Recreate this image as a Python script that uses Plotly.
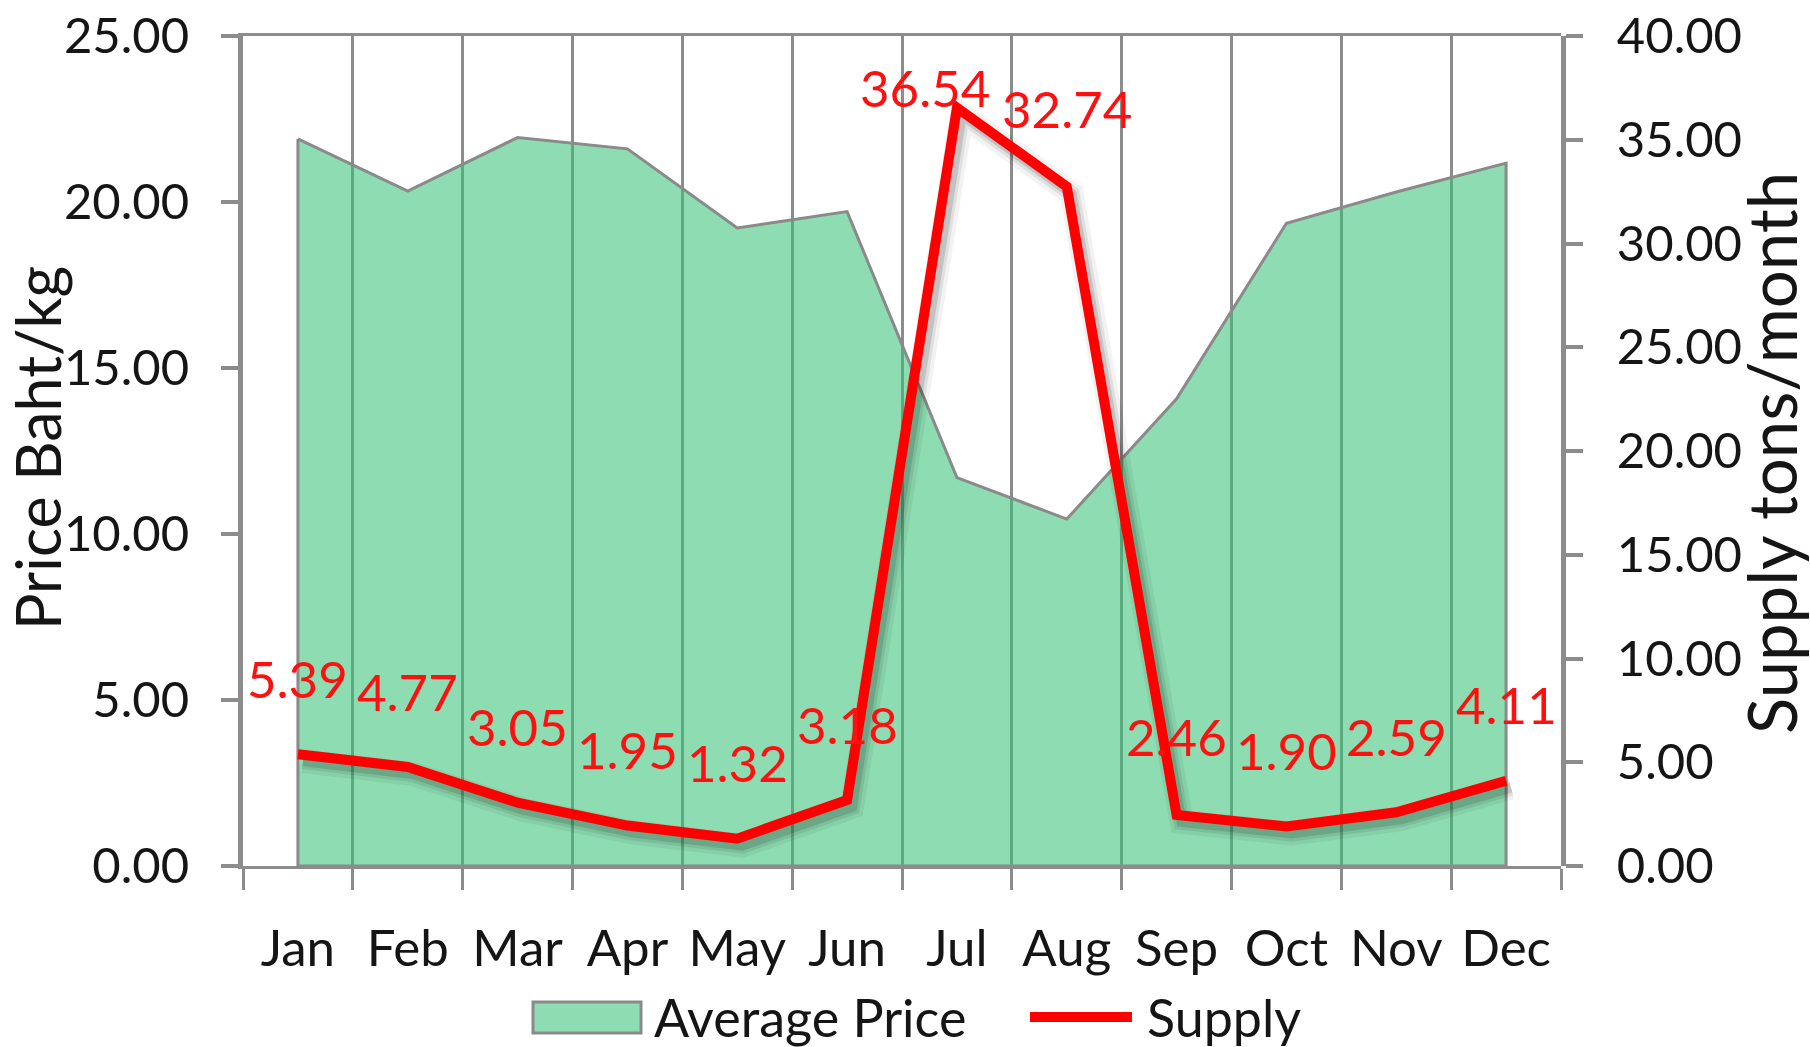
import plotly.graph_objects as go

months = ["Jan", "Feb", "Mar", "Apr", "May", "Jun", "Jul", "Aug", "Sep", "Oct", "Nov", "Dec"]
avg_price = [21.9, 20.33, 21.94, 21.6, 19.22, 19.71, 11.7, 10.45, 14.07, 19.36, 20.3, 21.17]
supply = [5.39, 4.77, 3.05, 1.95, 1.32, 3.18, 36.54, 32.74, 2.46, 1.90, 2.59, 4.11]
supply_labels = ["5.39", "4.77", "3.05", "1.95", "1.32", "3.18", "36.54", "32.74", "2.46", "1.90", "2.59", "4.11"]
price_ticks = [0, 5, 10, 15, 20, 25]
supply_ticks = [0, 5, 10, 15, 20, 25, 30, 35, 40]
series_names = ["Average Price", "Supply"]

# ---- layout geometry (pixels) ----
FW, FH = 1810, 1047
X0, X1, Y0, Y1 = 243, 1561, 36, 866   # main plot area (left, right, top, bottom)
SDX, SDY = 5, 7                        # shadow offset


def fx(px):
    return px / FW


def fy(py):
    return (FH - py) / FH


FONT = "Lato"
GREY = "#8c8c8c"
TXT = "#151515"
GREEN_FILL = "rgba(57,194,120,0.57)"
RED = "#ff0000"

fig = go.Figure()

# Average price area (closed polygon built from the data)
poly_x = months + [months[-1], months[0], months[0]]
poly_y = avg_price + [0, 0, avg_price[0]]
fig.add_trace(go.Scatter(
    x=poly_x, y=poly_y, xaxis="x", yaxis="y",
    mode="lines", fill="toself", fillcolor=GREEN_FILL,
    line=dict(color="#8a8a8a", width=3),
    name=series_names[0], hoverinfo="skip", showlegend=False,
))

# soft shadow of the supply line
for w, a in [(24, 0.05), (16, 0.08), (10, 0.13)]:
    fig.add_trace(go.Scatter(
        x=months, y=supply, xaxis="x2", yaxis="y3",
        mode="lines", line=dict(color=f"rgba(0,0,0,{a})", width=w),
        showlegend=False, hoverinfo="skip",
    ))

# supply line
fig.add_trace(go.Scatter(
    x=months, y=supply, xaxis="x3", yaxis="y4",
    mode="lines", line=dict(color=RED, width=10),
    name=series_names[1], hoverinfo="skip", showlegend=False,
))

# data labels
label_dx = [0, 0, 0, 0, 0, 0, -32, 0, 0, 0, 0, 0]
label_dy = [76, 76, 76, 76, 76, 76, 20, 78, 78, 76, 76, 76]
for m, v, t, dx, dy in zip(months, supply, supply_labels, label_dx, label_dy):
    fig.add_annotation(
        x=m, y=v, xref="x3", yref="y4", text=t, showarrow=False,
        xshift=dx, yshift=dy,
        font=dict(family=FONT, size=51, color="#ff1010"),
    )

# axis titles
fig.add_annotation(
    x=fx(38), y=fy(448), xref="paper", yref="paper", text="Price Baht/kg",
    textangle=-90, showarrow=False, xanchor="center", yanchor="middle",
    font=dict(family=FONT, size=61, color=TXT),
)
fig.add_annotation(
    x=fx(1771), y=fy(453), xref="paper", yref="paper", text="Supply tons/month",
    textangle=-90, showarrow=False, xanchor="center", yanchor="middle",
    font=dict(family=FONT, size=67, color=TXT),
)

# legend (drawn manually to match the large icons)
LEG_Y = 1017
fig.add_shape(type="rect", xref="paper", yref="paper",
              x0=fx(533), x1=fx(641), y0=fy(1033), y1=fy(1002),
              fillcolor="#8edcb2", line=dict(color="#8a8a8a", width=3))
fig.add_annotation(x=fx(652), y=fy(LEG_Y), xref="paper", yref="paper",
                   text=series_names[0], showarrow=False,
                   xanchor="left", yanchor="middle",
                   font=dict(family=FONT, size=52, color=TXT))
fig.add_shape(type="line", xref="paper", yref="paper",
              x0=fx(1030), x1=fx(1132), y0=fy(LEG_Y), y1=fy(LEG_Y),
              line=dict(color=RED, width=10))
fig.add_annotation(x=fx(1145), y=fy(LEG_Y), xref="paper", yref="paper",
                   text=series_names[1], showarrow=False,
                   xanchor="left", yanchor="middle",
                   font=dict(family=FONT, size=52, color=TXT))

main_xdom = [fx(X0), fx(X1)]
main_ydom = [fy(Y1), fy(Y0)]
sh_xdom = [fx(X0 + SDX), fx(X1 + SDX)]
sh_ydom = [fy(Y1 + SDY), fy(Y0 + SDY)]

hidden = dict(visible=False, showgrid=False, zeroline=False, fixedrange=True,
              automargin=False)

fig.update_layout(
    width=FW, height=FH, autosize=False,
    margin=dict(l=0, r=0, t=0, b=0, pad=0),
    paper_bgcolor="white", plot_bgcolor="rgba(0,0,0,0)",
    font=dict(family=FONT, color=TXT),
    showlegend=False,
    xaxis=dict(
        domain=main_xdom, anchor="y", type="category",
        categoryorder="array", categoryarray=months,
        range=[-0.5, 11.5], tickson="boundaries",
        ticks="outside", ticklen=21, tickwidth=3, tickcolor=GREY,
        showgrid=True, gridcolor=GREY, gridwidth=3,
        showline=True, linecolor=GREY, linewidth=3, mirror=True,
        tickfont=dict(family=FONT, size=51, color=TXT),
        ticklabelstandoff=36, zeroline=False, automargin=False,
    ),
    yaxis=dict(
        domain=main_ydom, anchor="x", range=[0, 25],
        tickvals=price_ticks, tickformat=".2f",
        ticks="outside", ticklen=17, tickwidth=4, tickcolor=GREY,
        showgrid=False, zeroline=False,
        showline=True, linecolor=GREY, linewidth=5,
        tickfont=dict(family=FONT, size=49, color=TXT),
        ticklabelstandoff=22, automargin=False,
    ),
    xaxis2=dict(domain=sh_xdom, anchor="y3", type="category",
                categoryorder="array", categoryarray=months,
                range=[-0.5, 11.5], **hidden),
    yaxis3=dict(domain=sh_ydom, anchor="x2", range=[0, 40], **hidden),
    xaxis3=dict(domain=main_xdom, anchor="y4", type="category",
                categoryorder="array", categoryarray=months,
                range=[-0.5, 11.5], **hidden),
    yaxis4=dict(
        domain=main_ydom, anchor="x3", side="right", range=[0, 40],
        tickvals=supply_ticks, tickformat=".2f",
        ticks="outside", ticklen=17, tickwidth=4, tickcolor=GREY,
        showgrid=False, zeroline=False,
        showline=True, linecolor=GREY, linewidth=5,
        tickfont=dict(family=FONT, size=49, color=TXT),
        ticklabelstandoff=24, fixedrange=True, automargin=False,
    ),
)

fig.write_html(
    "out.html",
    config={"displayModeBar": False},
    post_script="document.body.style.margin='0px';document.body.style.overflow='hidden';",
)
